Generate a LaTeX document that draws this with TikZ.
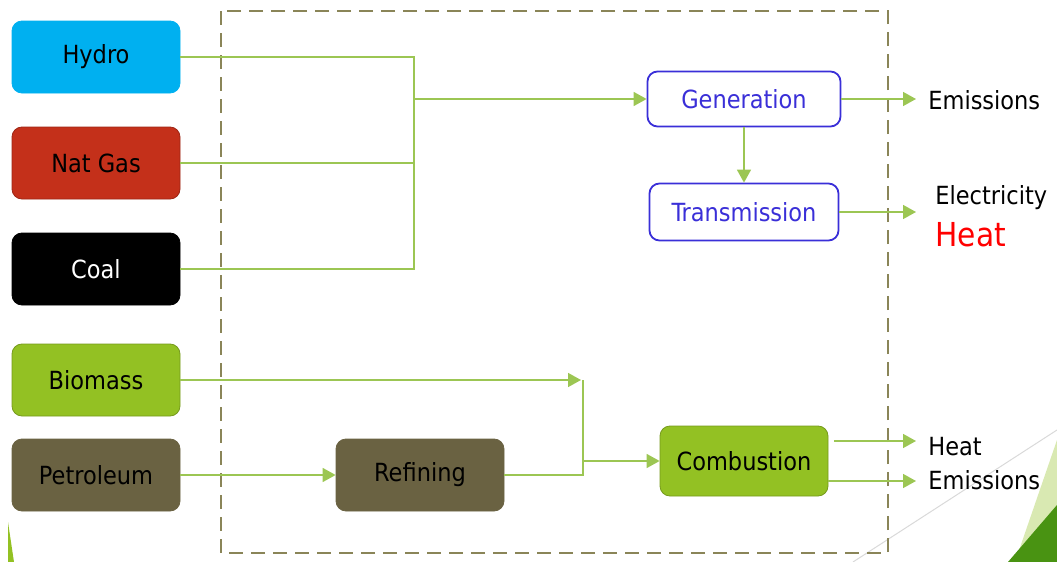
\documentclass[tikz,border=0pt]{standalone}
\usepackage{fontspec}
\setmainfont{DejaVu Sans Condensed}
\usepackage{tikz}
\usetikzlibrary{positioning,arrows.meta,calc}

\definecolor{hydroblue}{HTML}{00B0F0}
\definecolor{gasred}{HTML}{C4301A}
\definecolor{biogreen}{HTML}{93C123}
\definecolor{petrol}{HTML}{6A6242}
\definecolor{linegreen}{HTML}{9CC653}
\definecolor{boxline}{HTML}{8A8558}
\definecolor{genblue}{HTML}{3A2FD8}

\begin{document}
\begin{tikzpicture}[
  x=0.5pt, y=-0.5pt,
  font=\fontsize{12.5}{15}\selectfont,
  src/.style={draw, rounded corners=5pt, align=center,
              minimum width=84pt, minimum height=36pt, inner sep=2pt},
  proc/.style={draw=genblue, line width=0.9pt, fill=white, text=genblue,
               rounded corners=5pt, minimum height=27.5pt},
  ln/.style={draw=linegreen, line width=0.8pt},
  arr/.style={ln, -{Triangle[length=6.5pt,width=7pt]}},
  outarr/.style={arr, shorten >=3pt},
  lbl/.style={anchor=west, inner sep=3pt}
]
\useasboundingbox (0,0) rectangle (1057,562);

% slide corner decoration
\draw[black!15, line width=0.5pt] (853,562) -- (1057,430);
\fill[biogreen!35] (1057,440) -- (1057,562) -- (1015,562) -- cycle;
\fill[green!40!black!50!biogreen] (1057,505) -- (1057,562) -- (1008,562) -- cycle;
\fill[biogreen] (8,522) -- (14,562) -- (8,562) -- cycle;

% system boundary
\draw[boxline, line width=1.3pt, dash pattern=on 7pt off 4pt] (221,11) rectangle (888,553);

% sources
\node[src, fill=hydroblue, draw=hydroblue] (hydro) at (96,57) {Hydro};
\node[src, fill=gasred, draw=gasred!80!black] (natgas) at (96,163) {Nat Gas};
\node[src, fill=black, text=white] (coal) at (96,269) {Coal};
\node[src, fill=biogreen, draw=biogreen!80!black] (biomass) at (96,380) {Biomass};
\node[src, fill=petrol, draw=petrol] (petroleum) at (96,475) {Petroleum};

% processes
\node[src, fill=petrol, draw=petrol] (refining) at (420,475) {Refining};
\node[src, fill=biogreen, draw=biogreen!80!black, minimum height=35pt] (comb) at (744,461) {Combustion};
\node[proc, minimum width=96.5pt] (gen) at (744,99) {Generation};
\node[proc, minimum width=94.5pt, minimum height=28.5pt] (trans) at (744,212) {Transmission};

% outputs
\node[lbl] (emis1) at (922,100) {Emissions};
\node[lbl] (elec) at (929,198) {Electricity};
\node[lbl, text=red, font=\fontsize{16.5}{18}\selectfont] (heat1) at (929,235) {Heat};
\node[lbl] (heat2) at (922,447) {Heat};
\node[lbl] (emis2) at (922,480) {Emissions};

% electricity chain
\coordinate (jn) at (414,99);
\draw[ln] (hydro.east) -| (jn) |- (coal.east);
\draw[ln] (natgas.east) -- (natgas.east -| jn);
\draw[arr] (jn) -- (gen.west);
\draw[arr] (gen.south) -- (trans.north);
\draw[outarr] (gen.east) -- (gen.east -| emis1.west);
\draw[outarr] (trans.east) -- (trans.east -| emis1.west);

% combustion chain
\coordinate (jb) at (583,380);
\draw[arr] (biomass.east) -- ($(jb)+(-2,0)$);
\draw[ln] (jb) |- (refining.east);
\draw[arr] (petroleum.east) -- (refining.west);
\draw[arr] (jb |- comb.west) -- (comb.west);
\draw[outarr] ($(comb.east)+(6,-20)$) -- ($(comb.east -| emis1.west)+(0,-20)$);
\draw[outarr] ($(comb.east)+(0,20)$) -- ($(comb.east -| emis1.west)+(0,20)$);
\end{tikzpicture}
\end{document}
